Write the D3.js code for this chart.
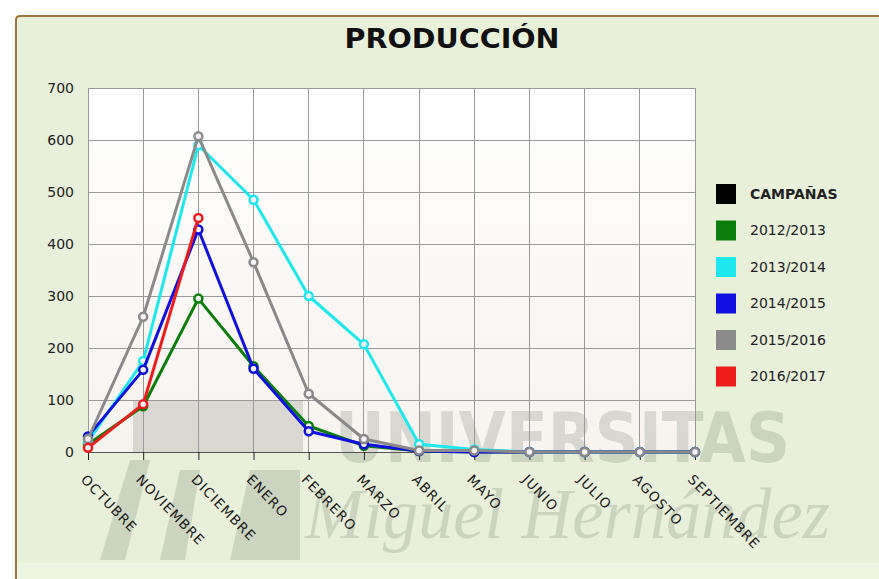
<!DOCTYPE html>
<html>
<head>
<meta charset="utf-8">
<script src="https://cdn.jsdelivr.net/npm/d3@7"></script>
<style>
  html, body { margin: 0; padding: 0; background: #ffffff; }
  svg { display: block; }
</style>
</head>
<body>
<svg id="chart" width="879" height="579"></svg>
<script>
// Monthly production per campaign (October to September)
const months = ["OCTUBRE", "NOVIEMBRE", "DICIEMBRE", "ENERO", "FEBRERO", "MARZO",
                "ABRIL", "MAYO", "JUNIO", "JULIO", "AGOSTO", "SEPTIEMBRE"];
const yTicks = [0, 100, 200, 300, 400, 500, 600, 700];

const campaigns = ["2012/2013", "2013/2014", "2014/2015", "2015/2016", "2016/2017"];
const colors = ["#0a7d0a", "#1ee8ee", "#1010e0", "#8a8a8a", "#ee1c1c"];

const v2012 = [15, 88, 295, 165, 50, 12, 2, 0, 0, 0, 0, 0];
const v2013 = [20, 175, 590, 485, 300, 207, 15, 5, 0, 0, 0, 0];
const v2014 = [30, 158, 428, 160, 40, 15, 2, 0, 0, 0, 0, 0];
const v2015 = [25, 260, 607, 365, 112, 25, 3, 3, 0, 0, 0, 0];
const v2016 = [8, 92, 450];

const seriesValues = [v2012, v2013, v2014, v2015, v2016];

const svg = d3.select("#chart");
const font = "'DejaVu Sans', Verdana, sans-serif";

// Panel background with a thin brown frame edge
svg.append("rect").attr("x", 16).attr("y", 16).attr("width", 863).attr("height", 563)
  .attr("fill", "#e8f0da");
svg.append("rect").attr("x", 16).attr("y", 563).attr("width", 863).attr("height", 16)
  .attr("fill", "#eef4e2");
svg.append("path").attr("d", "M16,579 L16,20 Q16,16 20,16 L879,16")
  .attr("fill", "none").attr("stroke", "#9c7640").attr("stroke-width", 2);

const x = d3.scalePoint().domain(months).range([88, 695]);
const y = d3.scaleLinear().domain([0, 700]).range([452, 88]);

// Plot area
const plotBg = svg.append("defs").append("linearGradient").attr("id", "plotbg")
  .attr("x1", 0).attr("y1", 0).attr("x2", 0).attr("y2", 1);
plotBg.append("stop").attr("offset", "0%").attr("stop-color", "#ffffff");
plotBg.append("stop").attr("offset", "100%").attr("stop-color", "#f7f3ef");
svg.append("rect").attr("x", x.range()[0]).attr("y", y(700))
  .attr("width", x.range()[1] - x.range()[0]).attr("height", y(0) - y(700))
  .attr("fill", "url(#plotbg)");

// Watermark
const wm = svg.append("g").attr("opacity", 0.2).attr("fill", "#5e6a58");
wm.append("rect").attr("x", 133).attr("y", 400).attr("width", 170).attr("height", 52).attr("fill", "#6a6a60");
wm.append("path").attr("d", "M100,560 L130,460 L150,460 L125,560 Z M160,560 L180,470 L200,470 L185,560 Z M230,560 L250,470 L300,470 L300,560 Z");
wm.append("text").attr("x", 335).attr("y", 462).attr("font-family", "'DejaVu Sans', sans-serif")
  .attr("font-weight", "bold").attr("font-size", 70).attr("textLength", 455)
  .attr("lengthAdjust", "spacingAndGlyphs").text("UNIVERSITAS");
wm.append("text").attr("x", 305).attr("y", 538).attr("font-family", "'Liberation Serif', serif")
  .attr("font-style", "italic").attr("font-size", 72).attr("textLength", 525)
  .attr("lengthAdjust", "spacingAndGlyphs").text("Miguel Hernández");

// Grid
const grid = svg.append("g").attr("stroke", "#9a9a9a").attr("stroke-width", 1).attr("shape-rendering", "crispEdges");
grid.selectAll("line.h").data(yTicks).join("line")
  .attr("x1", x.range()[0]).attr("x2", x.range()[1])
  .attr("y1", d => y(d)).attr("y2", d => y(d));
grid.selectAll("line.v").data(months).join("line")
  .attr("x1", d => x(d)).attr("x2", d => x(d))
  .attr("y1", y(700)).attr("y2", y(0));

// Y axis labels
svg.append("g").attr("transform", `translate(${x.range()[0]},0)`)
  .call(d3.axisLeft(y).tickValues(yTicks).tickSize(0).tickPadding(14))
  .call(g => g.select(".domain").remove())
  .call(g => g.selectAll("text").attr("font-family", font).attr("font-size", 14).attr("fill", "#222"));

// X axis ticks and rotated labels
const xAxis = svg.append("g").attr("transform", `translate(0,${y(0)})`)
  .call(d3.axisBottom(x).tickSize(8).tickPadding(0))
  .call(g => g.select(".domain").attr("stroke", "#555"));
xAxis.selectAll(".tick line").attr("stroke", "#222");
xAxis.selectAll("text")
  .attr("font-family", font).attr("font-size", 13.5).attr("fill", "#1a1a1a")
  .attr("letter-spacing", 1.2)
  .attr("text-anchor", "start")
  .attr("x", 0).attr("y", 0).attr("dy", "0.35em")
  .attr("transform", "translate(-5,25) rotate(46)");

// Series lines and markers
const line = d3.line().x((d, i) => x(months[i])).y(d => y(d));
seriesValues.forEach((vals, s) => {
  const g = svg.append("g");
  g.append("path").datum(vals).attr("d", line)
    .attr("fill", "none").attr("stroke", colors[s]).attr("stroke-width", 3)
    .attr("stroke-linejoin", "round");
  g.selectAll("circle").data(vals).join("circle")
    .attr("cx", (d, i) => x(months[i])).attr("cy", d => y(d)).attr("r", 4)
    .attr("fill", "#f4f2f8").attr("stroke", colors[s]).attr("stroke-width", 2.5);
});

// Title
svg.append("text").attr("x", 452).attr("y", 48).attr("text-anchor", "middle")
  .attr("font-family", font).attr("font-weight", "bold").attr("font-size", 26)
  .attr("textLength", 215).attr("lengthAdjust", "spacingAndGlyphs")
  .attr("fill", "#111").text("PRODUCCIÓN");

// Legend
const legendItems = [{ label: "CAMPAÑAS", color: "#000000", bold: true }]
  .concat(campaigns.map((c, i) => ({ label: c, color: colors[i], bold: false })));
const legend = svg.append("g").attr("transform", "translate(716,184)");
legend.selectAll("g").data(legendItems).join("g")
  .attr("transform", (d, i) => `translate(0,${i * 36.5})`)
  .each(function (d) {
    const g = d3.select(this);
    g.append("rect").attr("width", 20).attr("height", 20).attr("fill", d.color);
    g.append("text").attr("x", 34).attr("y", 10).attr("dy", "0.35em")
      .attr("font-family", font).attr("font-size", 14)
      .attr("font-weight", d.bold ? "bold" : "normal").attr("fill", "#222")
      .text(d.label);
  });
</script>
</body>
</html>
